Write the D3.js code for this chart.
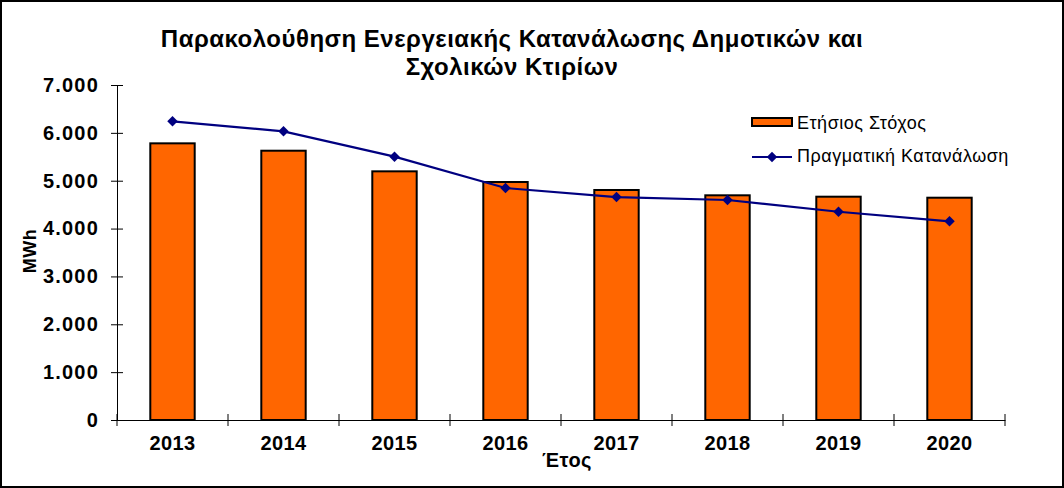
<!DOCTYPE html>
<html lang="el">
<head>
<meta charset="utf-8">
<title>Energy consumption</title>
<script src="https://d3js.org/d3.v7.min.js"></script>
<style>
  body { margin: 0; background: #fff; }
  text { font-family: Arial, "Liberation Sans", sans-serif; }
</style>
</head>
<body>
<script>
// chart data
var years = ["2013", "2014", "2015", "2016", "2017", "2018", "2019", "2020"];
var target = [5781, 5627, 5196, 4973, 4806, 4695, 4666, 4645];
var actual = [6241, 6032, 5502, 4847, 4659, 4597, 4352, 4152];
var yTicks = [0, 1000, 2000, 3000, 4000, 5000, 6000, 7000];

var W = 1064, H = 488;
var margin = {top: 85, right: 59, bottom: 68, left: 117};
var w = W - margin.left - margin.right;
var h = H - margin.top - margin.bottom;

var svg = d3.select("body").append("svg").attr("width", W).attr("height", H);

// outer frame
svg.append("rect")
    .attr("x", 1).attr("y", 1)
    .attr("width", W - 2).attr("height", H - 2)
    .attr("fill", "#fff").attr("stroke", "#000").attr("stroke-width", 2);

var g = svg.append("g").attr("transform", "translate(" + margin.left + "," + margin.top + ")");

var x = d3.scaleBand().domain(years).range([0, w]);
var y = d3.scaleLinear().domain([0, 7000]).range([h, 0]);

var fmt = function(d) { return d3.format(",")(d).replace(",", "."); };

// bars
g.selectAll(".bar")
    .data(target)
    .enter().append("rect")
    .attr("class", "bar")
    .attr("x", function(d, i) { return x(years[i]) + x.bandwidth() * 0.3; })
    .attr("width", x.bandwidth() * 0.4)
    .attr("y", function(d) { return y(d); })
    .attr("height", function(d) { return h - y(d); })
    .attr("fill", "#FF6600")
    .attr("stroke", "#000")
    .attr("stroke-width", 2);

// y axis
var yAxis = g.append("g")
    .call(d3.axisLeft(y).tickValues(yTicks).tickFormat(fmt).tickSizeInner(6).tickSizeOuter(0).tickPadding(12));
yAxis.selectAll(".tick line").attr("x2", 6).attr("x1", -6);
yAxis.selectAll("text").attr("font-size", 20).attr("font-weight", "bold")
    .attr("letter-spacing", 1.2).attr("fill", "#000");
yAxis.select(".domain").attr("stroke", "#000");

// x axis with ticks between categories
var xAxis = g.append("g").attr("transform", "translate(0," + h + ")")
    .call(d3.axisBottom(x).tickSize(0).tickPadding(16));
xAxis.selectAll("text").attr("font-size", 20).attr("font-weight", "bold")
    .attr("letter-spacing", 0.4).attr("fill", "#000");
xAxis.select(".domain").attr("stroke", "#000");
xAxis.selectAll(".sep")
    .data(years.concat(["end"]))
    .enter().append("line")
    .attr("class", "sep")
    .attr("x1", function(d, i) { return i * x.step(); })
    .attr("x2", function(d, i) { return i * x.step(); })
    .attr("y1", -6).attr("y2", 6)
    .attr("stroke", "#000");

// actual consumption line
var line = d3.line()
    .x(function(d, i) { return x(years[i]) + x.bandwidth() / 2; })
    .y(function(d) { return y(d); });

g.append("path")
    .datum(actual)
    .attr("d", line)
    .attr("fill", "none")
    .attr("stroke", "#000080")
    .attr("stroke-width", 2.2);

var diamond = d3.symbol().type(d3.symbolDiamond2).size(70);
g.selectAll(".pt")
    .data(actual)
    .enter().append("path")
    .attr("class", "pt")
    .attr("d", diamond)
    .attr("transform", function(d, i) { return "translate(" + (x(years[i]) + x.bandwidth() / 2) + "," + y(d) + ")"; })
    .attr("fill", "#000080");

// title
var title = svg.append("text")
    .attr("x", 512).attr("text-anchor", "middle")
    .attr("font-size", 24).attr("font-weight", "bold").attr("letter-spacing", 0.5);
title.append("tspan").attr("x", 512).attr("y", 47).text("Παρακολούθηση Ενεργειακής Κατανάλωσης Δημοτικών και");
title.append("tspan").attr("x", 512).attr("y", 75).text("Σχολικών Κτιρίων");

// axis titles
svg.append("text")
    .attr("transform", "translate(36,251) rotate(-90)")
    .attr("text-anchor", "middle")
    .attr("font-size", 18).attr("font-weight", "bold").attr("letter-spacing", 0.5)
    .text("MWh");

svg.append("text")
    .attr("x", 567).attr("y", 467)
    .attr("text-anchor", "middle")
    .attr("font-size", 20).attr("font-weight", "bold").attr("letter-spacing", 0.5)
    .text("Έτος");

// legend
var leg = svg.append("g").attr("transform", "translate(752,0)");
leg.append("rect")
    .attr("x", 0).attr("y", 118).attr("width", 40).attr("height", 8)
    .attr("fill", "#FF6600").attr("stroke", "#000").attr("stroke-width", 2);
leg.append("text").attr("x", 45).attr("y", 129).attr("font-size", 18)
    .attr("letter-spacing", 0.5).text("Ετήσιος Στόχος");
leg.append("line")
    .attr("x1", 0).attr("x2", 40).attr("y1", 157).attr("y2", 157)
    .attr("stroke", "#000080").attr("stroke-width", 2.2);
leg.append("path").attr("d", diamond).attr("transform", "translate(20,157)").attr("fill", "#000080");
leg.append("text").attr("x", 45).attr("y", 162).attr("font-size", 18)
    .attr("letter-spacing", 0.5).text("Πραγματική Κατανάλωση");
</script>
</body>
</html>
